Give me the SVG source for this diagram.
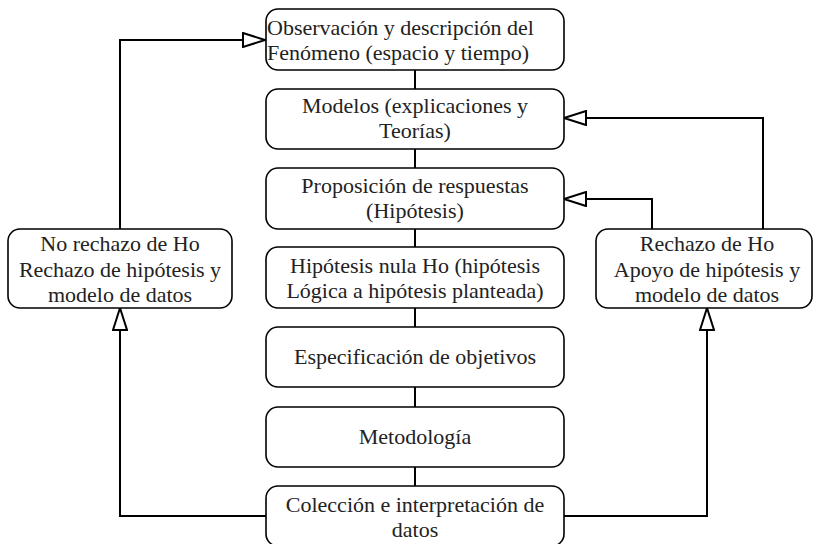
<svg xmlns="http://www.w3.org/2000/svg" width="814" height="544" viewBox="0 0 814 544">
<defs>
<style>
.box{fill:#fff;stroke:#000;stroke-width:1.6}
.t{font-family:'Liberation Serif','DejaVu Serif',serif;font-size:22px;fill:#222;text-anchor:middle}
.tl{text-anchor:start}
.c{fill:none;stroke:#000;stroke-width:2}
</style>
<marker id="tri" viewBox="0 0 24 16" refX="23" refY="8" markerWidth="24" markerHeight="16" markerUnits="userSpaceOnUse" orient="auto">
<path d="M1,1 L23,8 L1,15 z" fill="#fff" stroke="#000" stroke-width="2"/>
</marker>
</defs>
<rect width="814" height="544" fill="#fff"/>
<g id="connectors">
<path class="c" d="M415,70 V89"/>
<path class="c" d="M415,149 V168"/>
<path class="c" d="M415,229 V247"/>
<path class="c" d="M415,308 V327"/>
<path class="c" d="M415,387 V407"/>
<path class="c" d="M415,467 V486"/>
<path class="c" d="M120,229 V40 H265" marker-end="url(#tri)"/>
<path class="c" d="M266,516 H120 V308" marker-end="url(#tri)"/>
<path class="c" d="M564,516 H707 V308" marker-end="url(#tri)"/>
<path class="c" d="M763,229 V118 H564" marker-end="url(#tri)"/>
<path class="c" d="M652,229 V199 H564" marker-end="url(#tri)"/>
</g>
<g id="n1"><rect class="box" x="266" y="9" width="298" height="61" rx="12"/>
<text class="t tl" x="267" y="35">Observación y descripción del</text>
<text class="t tl" x="267" y="60">Fenómeno (espacio y tiempo)</text></g>
<g id="n2"><rect class="box" x="266" y="89" width="298" height="60" rx="12"/>
<text class="t" x="415" y="113">Modelos (explicaciones y</text>
<text class="t" x="415" y="138">Teorías)</text></g>
<g id="n3"><rect class="box" x="266" y="168" width="298" height="61" rx="12"/>
<text class="t" x="415" y="193">Proposición de respuestas</text>
<text class="t" x="415" y="218">(Hipótesis)</text></g>
<g id="n4"><rect class="box" x="266" y="247" width="298" height="61" rx="12"/>
<text class="t" x="415" y="273">Hipótesis nula Ho (hipótesis</text>
<text class="t" x="415" y="298">Lógica a hipótesis planteada)</text></g>
<g id="n5"><rect class="box" x="266" y="327" width="298" height="60" rx="12"/>
<text class="t" x="415" y="364">Especificación de objetivos</text></g>
<g id="n6"><rect class="box" x="266" y="407" width="298" height="60" rx="12"/>
<text class="t" x="415" y="444">Metodología</text></g>
<g id="n7"><rect class="box" x="266" y="486" width="298" height="60" rx="12"/>
<text class="t" x="415" y="512">Colección e interpretación de</text>
<text class="t" x="415" y="537">datos</text></g>
<g id="left"><rect class="box" x="8" y="229" width="224" height="79" rx="12"/>
<text class="t" x="120" y="251">No rechazo de Ho</text>
<text class="t" x="120" y="277">Rechazo de hipótesis y</text>
<text class="t" x="120" y="302">modelo de datos</text></g>
<g id="right"><rect class="box" x="596" y="229" width="216" height="79" rx="12"/>
<text class="t" x="707" y="251">Rechazo de Ho</text>
<text class="t" x="707" y="277">Apoyo de hipótesis y</text>
<text class="t" x="707" y="302">modelo de datos</text></g>
</svg>
